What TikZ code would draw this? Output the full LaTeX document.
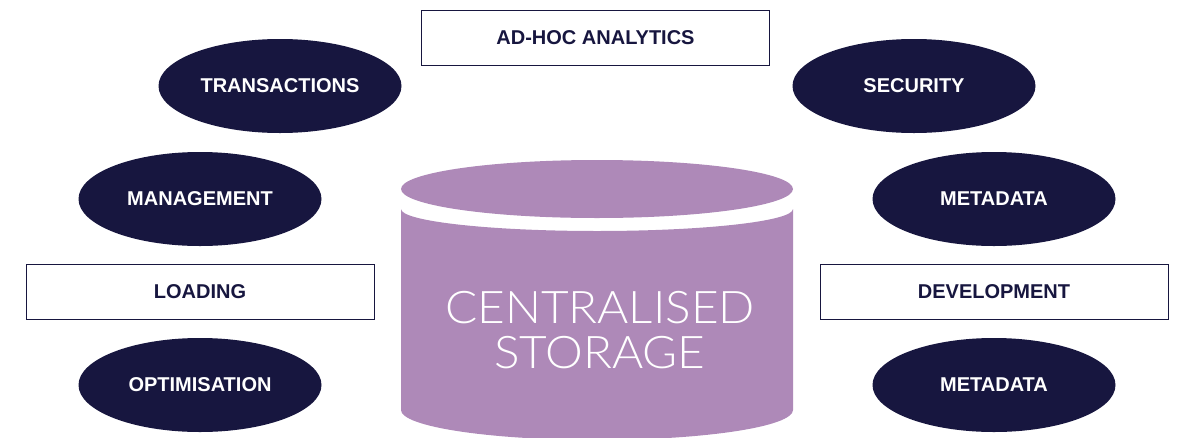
\documentclass[tikz,border=0pt]{standalone}
\usepackage{fontspec}
\setmainfont{Liberation Sans}
\newfontfamily\lightfont{Lato Light}[FakeStretch=1.06]
\usetikzlibrary{shapes.geometric}
\definecolor{navy}{HTML}{17163F}
\definecolor{mauve}{HTML}{AE89B8}
\begin{document}
\begin{tikzpicture}[x=1pt,y=-1pt,
  oval/.style={ellipse, fill=navy, draw=none, minimum width=243pt, minimum height=94pt,
    inner sep=0pt, text=white, font=\fontsize{20}{24}\selectfont\bfseries},
  tag/.style={rectangle, draw=navy, line width=1pt, fill=white, minimum width=348pt,
    minimum height=55pt, inner sep=0pt, text=navy, font=\fontsize{20}{24}\selectfont\bfseries}]
\useasboundingbox (0,0) rectangle (1179,437);

% central storage cylinder: body with a curved top and bottom, then the lid
\begin{scope}
\clip (0,0) rectangle (1179,437);
\fill[mauve] (401,209) arc[start angle=180, end angle=0, x radius=196, y radius=22]
  -- (793,410) arc[start angle=0, end angle=180, x radius=196, y radius=30] -- cycle;
\end{scope}
\node[ellipse, fill=mauve, minimum width=392pt, minimum height=58pt, inner sep=0pt] (lid) at (597,189) {};
\node[text=white, align=center, font=\fontsize{45}{45}\selectfont\lightfont] (store) at (600,330)
  {CENTRALISED\\STORAGE};

% left column
\node[oval] (transactions) at (280,86) {TRANSACTIONS};
\node[oval] (management) at (200,199) {MANAGEMENT};
\node[tag] (loading) at (200,291.5) {LOADING};
\node[oval] (optimisation) at (200,385) {OPTIMISATION};

% top
\node[tag] (adhoc) at (595.5,38) {AD-HOC ANALYTICS};

% right column
\node[oval] (security) at (914,86) {SECURITY};
\node[oval] (metadataA) at (994,199) {METADATA};
\node[tag] (development) at (994,291.5) {DEVELOPMENT};
\node[oval] (metadataB) at (994,385) {METADATA};
\end{tikzpicture}
\end{document}
